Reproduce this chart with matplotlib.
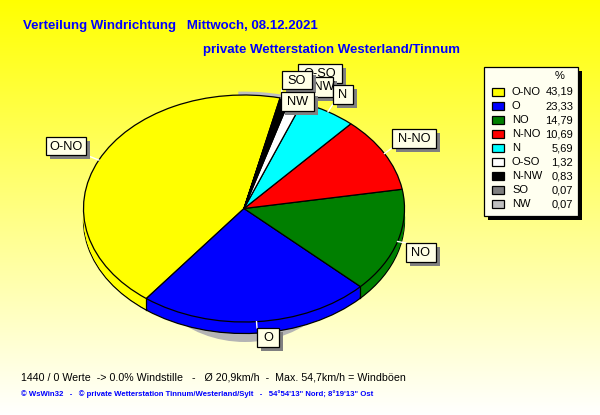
import numpy as np
import matplotlib
matplotlib.use("Agg")
import matplotlib.pyplot as plt
from matplotlib.patches import Rectangle, Ellipse, Wedge

# --- data ---
categories = ["O-NO", "O", "NO", "N-NO", "N", "O-SO", "N-NW", "SO", "NW"]
percent = [43.19, 23.33, 14.79, 10.69, 5.69, 1.32, 0.83, 0.07, 0.07]
percent_labels = ["43,19", "23,33", "14,79", "10,69", "5,69", "1,32", "0,83", "0,07", "0,07"]

# --- style / layout ---
colors = ["#ffff00", "#0000ff", "#007f00", "#ff0000", "#00ffff",
          "#ffffff", "#000000", "#7f7f7f", "#bfbfbf"]
W, H = 600, 415
CX, CY, A, B = 244.0, 208.5, 160.5, 113.5
DEPTH = 11.5
START = 77
box_rects = {  # x0, y0, x1, y1 in pixels, listed in drawing order
    "O-NO": (46, 137, 86, 155), "N-NO": (392, 129, 436, 148),
    "NO": (406, 243, 436, 262), "O": (257, 328, 279, 347),
    "O-SO": (298, 64, 342, 83), "N-NW": (302, 77, 333, 97),
    "N": (333, 85, 353, 104), "SO": (282, 71, 312, 89), "NW": (281, 92, 314, 111),
}
SANS = "Liberation Sans"

fig = plt.figure(figsize=(W / 100, H / 100), dpi=100)
bg = fig.add_axes([0, 0, 1, 1], zorder=0)
bg.set_xlim(0, W); bg.set_ylim(H, 0); bg.axis("off")
grad = np.zeros((H, 1, 3))
grad[..., 0] = 1; grad[..., 1] = 1
grad[:, 0, 2] = np.linspace(0, 1, H)
bg.imshow(grad, extent=(0, W, H, 0), aspect="auto", zorder=0)

# shadow beneath the pie
bg.add_patch(Ellipse((245, 239), 220, 206, fc="#b4b4b4", ec="none", zorder=1))

# pie axes: the ellipse is the unit circle stretched by the axes
SCALE = 1.35
pie_ax = fig.add_axes([(CX - A * SCALE) / W, 1 - (CY + B * SCALE) / H,
                       2 * A * SCALE / W, 2 * B * SCALE / H], zorder=1)
pie_ax.patch.set_alpha(0)
d = DEPTH / B
# thin grey sliver along the top rim
pie_ax.add_patch(Wedge((0, 0), 1.03, START - 1, 92, fc="#bfbfbf", ec="none", zorder=0))
# side wall: stacked copies, outlined copy at the bottom
pie_ax.pie(percent, colors=colors, startangle=START, center=(0, -d), radius=1,
           wedgeprops=dict(edgecolor="black", linewidth=0.9, zorder=1))
for off in np.linspace(d * 0.9, d * 0.1, 10):
    pie_ax.pie(percent, colors=colors, startangle=START, center=(0, -off), radius=1,
               wedgeprops=dict(edgecolor="none", linewidth=0, zorder=2))
pie_ax.pie(percent, colors=colors, startangle=START, radius=1,
           wedgeprops=dict(edgecolor="black", linewidth=0.9, zorder=3))
# vertical corners of the wall
cum = START + np.cumsum(percent) * 3.6
for ang in cum[:2]:
    xx = np.cos(np.radians(ang)); yy = np.sin(np.radians(ang))
    pie_ax.plot([xx, xx], [yy, yy - d], color="black", lw=0.9, zorder=4)
pie_ax.set_aspect("auto")
pie_ax.set_xlim(-SCALE, SCALE); pie_ax.set_ylim(-SCALE, SCALE)
pie_ax.axis("off")

# overlay for labels and legend
ov = fig.add_axes([0, 0, 1, 1], zorder=2)
ov.set_xlim(0, W); ov.set_ylim(H, 0); ov.axis("off"); ov.patch.set_alpha(0)

# leader lines
mids = START + (np.cumsum(percent) - np.array(percent) / 2) * 3.6
for name, m in zip(categories, mids):
    x0, y0, x1, y1 = box_rects[name]
    px = CX + A * np.cos(np.radians(m)); py = CY - B * np.sin(np.radians(m))
    ov.plot([px, np.clip(px, x0, x1)], [py, np.clip(py, y0, y1)],
            color="white", lw=1, zorder=2)

# label boxes
for i, (name, (x0, y0, x1, y1)) in enumerate(box_rects.items()):
    z = 3 + i
    ov.add_patch(Rectangle((x0 + 4, y0 + 4), x1 - x0, y1 - y0, fc="#808080", ec="none", zorder=z))
    ov.add_patch(Rectangle((x0, y0), x1 - x0, y1 - y0, fc="#ffffe6", ec="black", lw=0.9, zorder=z))
    ov.text((x0 + x1) / 2, (y0 + y1) / 2 + 0.5, name, ha="center", va="center",
            family=SANS, fontsize=9.2, color="black", zorder=z)

# legend
ov.add_patch(Rectangle((488, 71), 94, 149, fc="black", ec="none", zorder=20))
ov.add_patch(Rectangle((484, 67), 94, 149, fc="#fffff0", ec="black", lw=0.9, zorder=21))
ov.text(560, 76, "%", ha="center", va="center", family=SANS, fontsize=8, zorder=22)
for i, (name, lab, col) in enumerate(zip(categories, percent_labels, colors)):
    y = 92 + 14 * i
    ov.add_patch(Rectangle((491.5, y - 4), 12.5, 8, fc=col, ec="black", lw=0.9, zorder=22))
    ov.text(512, y, name, ha="left", va="center", family=SANS, fontsize=8, zorder=22)
    ov.text(573, y, lab, ha="right", va="center", family=SANS, fontsize=8, zorder=22)

# titles
ov.text(23, 25.5, "Verteilung Windrichtung   Mittwoch, 08.12.2021", family=SANS, weight="bold",
        fontsize=9.5, color="#0000ff", ha="left", va="center")
ov.text(203, 49.5, "private Wetterstation Westerland/Tinnum", family=SANS, weight="bold",
        fontsize=9.5, color="#0000ff", ha="left", va="center")
ov.text(21, 377, "1440 / 0 Werte  -> 0.0% Windstille   -   Ø 20,9km/h  -  Max. 54,7km/h = Windböen",
        family=SANS, fontsize=7.7, color="black", ha="left", va="center")
ov.text(21, 394.5, "© WsWin32   -   © private Wetterstation Tinnum/Westerland/Sylt   -   54°54'13\" Nord; 8°19'13\" Ost",
        family=SANS, weight="bold", fontsize=5.55, color="#0000ff", ha="left", va="center")

fig.savefig("out.png", dpi=100)
